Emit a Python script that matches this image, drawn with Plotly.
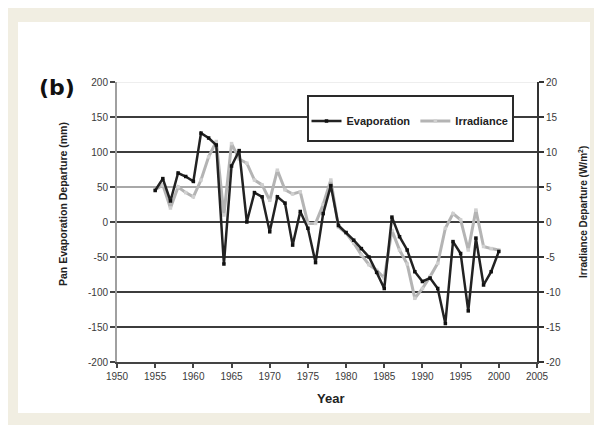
import plotly.graph_objects as go

years = list(range(1955, 2001))
evaporation = [45, 62, 30, 70, 65, 58, 127, 120, 110, -60,
               80, 102, 0, 42, 36, -14, 36, 27, -33, 15,
               -9, -58, 12, 52, -5, -15, -26, -38, -50, -72,
               -95, 7, -21, -40, -71, -85, -80, -95, -145, -28,
               -45, -127, -23, -90, -71, -42]
irradiance = [4.6, 5.3, 2.0, 5.0, 4.2, 3.6, 6.0, 9.3, 11.5, 1.0,
              11.2, 9.0, 8.4, 6.0, 5.3, 3.1, 7.4, 4.6, 4.0, 4.3,
              -0.2, -0.2, 2.5, 6.0, -0.7, -1.6, -3.0, -4.7, -6.1, -6.9,
              -8.0, -1.2, -4.0, -6.0, -10.9, -9.5, -7.8, -5.9, -0.9, 1.2,
              0.3, -4.0, 1.7, -3.5, -3.8, -4.0]

left_ticks = [200, 150, 100, 50, 0, -50, -100, -150, -200]
left_labels = ["200", "150", "100", "50", "0", "-50", "-100", "-150", "-200"]
right_ticks = [20, 15, 10, 5, 0, -5, -10, -15, -20]
right_labels = ["20", "15", "10", "5", "0", "-5", "-10", "-15", "-20"]
x_ticks = list(range(1950, 2006, 5))

OFF = 8  # page body margin
W, H = 602 - OFF, 425 - OFF
L, T = 117 - OFF, 82 - OFF
pw, ph = 420, 280
R, B = W - L - pw, H - T - ph


def px(x):
    return (x - OFF - L) / pw


def py(y):
    return (T + ph - (y - OFF)) / ph


fig = go.Figure()
fig.add_trace(go.Scatter(
    x=years, y=irradiance, name="Irradiance", yaxis="y",
    mode="lines+markers",
    line=dict(color="#b4b4b4", width=3),
    marker=dict(size=3.5, color="#d0d0d0", symbol="square"),
))
fig.add_trace(go.Scatter(
    x=years, y=evaporation, name="Evaporation", yaxis="y2",
    mode="lines+markers",
    line=dict(color="#222222", width=2.5),
    marker=dict(size=3.5, color="#111111", symbol="square"),
))

shapes = []
shapes.append(dict(type="rect", xref="paper", yref="paper", layer="below",
                   x0=px(18), x1=px(590), y0=py(413), y1=py(22),
                   fillcolor="white", line=dict(width=0)))
for v in left_ticks:
    if v == -200:
        continue
    if v == 200:
        col, wd = "#dddddd", 1
    elif v == 50:
        col, wd = "#a8a8a8", 2
    else:
        col, wd = "#3c3c3c", 2
    shapes.append(dict(type="line", xref="paper", yref="y2", layer="below",
                       x0=0, x1=1, y0=v, y1=v, line=dict(color=col, width=wd)))
shapes.append(dict(type="rect", xref="paper", yref="paper", layer="above",
                   x0=px(308), x1=px(513), y0=py(141), y1=py(96),
                   fillcolor="white", line=dict(color="#2a2a2a", width=2)))

tickfont = dict(family="Liberation Sans, Arial", size=10, color="#3a3a3a")

fig.update_layout(
    width=W, height=H,
    margin=dict(l=L, r=R, t=T, b=B),
    paper_bgcolor="#f1eee2",
    plot_bgcolor="rgba(0,0,0,0)",
    showlegend=True,
    legend=dict(orientation="h", x=px(410), y=py(121), xanchor="center", yanchor="middle",
                bgcolor="rgba(0,0,0,0)", borderwidth=0, traceorder="reversed",
                itemwidth=30,
                font=dict(family="Liberation Sans, Arial", size=11, color="#222222", weight="bold")),
    xaxis=dict(range=[1950, 2005], tickvals=x_ticks, ticks="outside", ticklen=4,
               tickcolor="#444444", tickwidth=2, showline=True, linecolor="#444444",
               linewidth=2, showgrid=False, zeroline=False, tickfont=tickfont),
    yaxis=dict(range=[-20, 20], side="right", tickvals=right_ticks, ticktext=right_labels,
               ticks="outside", ticklen=5, tickcolor="#333333", tickwidth=2,
               showline=True, linecolor="#333333", linewidth=2,
               showgrid=False, zeroline=False, tickfont=tickfont),
    yaxis2=dict(range=[-200, 200], side="left", overlaying="y", tickvals=left_ticks,
                ticktext=left_labels, ticks="outside", ticklen=5, tickcolor="#444444",
                tickwidth=2, showline=True, linecolor="#a0a0a0", linewidth=2,
                showgrid=False, zeroline=False, tickfont=tickfont),
    shapes=shapes,
    annotations=[
        dict(text="(b)", xref="paper", yref="paper", x=px(57), y=py(87),
             showarrow=False, xanchor="center", yanchor="middle",
             font=dict(family="DejaVu Sans", size=22, color="#111111", weight="bold")),
        dict(text="Pan Evaporation Departure (mm)", xref="paper", yref="paper",
             x=px(63), y=py(204), textangle=-90, showarrow=False,
             xanchor="center", yanchor="middle",
             font=dict(family="Liberation Sans, Arial", size=10.5, color="#222222", weight="bold")),
        dict(text="Irradiance Departure (W/m<sup>2</sup>)", xref="paper", yref="paper",
             x=px(583), y=py(212), textangle=-90, showarrow=False,
             xanchor="center", yanchor="middle",
             font=dict(family="Liberation Sans, Arial", size=10, color="#222222", weight="bold")),
        dict(text="Year", xref="paper", yref="paper", x=px(330), y=py(398),
             showarrow=False, xanchor="center", yanchor="middle",
             font=dict(family="Liberation Sans, Arial", size=13, color="#222222", weight="bold")),
    ],
)

fig.write_html("out.html")
